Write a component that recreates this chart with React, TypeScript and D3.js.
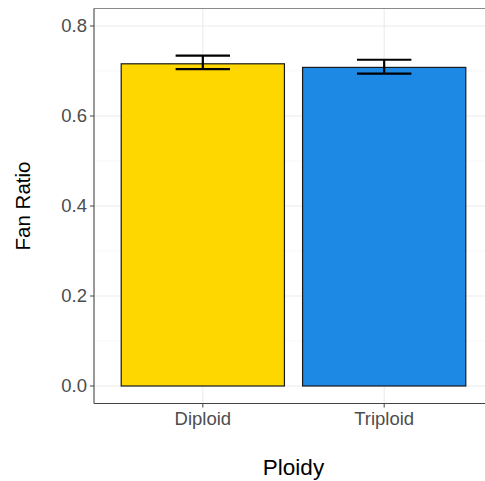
import React from 'react';
import { scaleLinear, scalePoint } from 'd3';

const categories = ['Diploid', 'Triploid'];
const means = [0.716, 0.708];
const lower = [0.704, 0.694];
const upper = [0.734, 0.725];
const fills = ['#FFD700', '#1E88E5'];
const yTicks = [0, 0.2, 0.4, 0.6, 0.8];
const yMinor = [0.1, 0.3, 0.5, 0.7];

const W = 485;
const H = 481;
const left = 94;
const right = 493;
const top = 8.5;
const bottom = 403.5;

const App: React.FC = () => {
  const y = scaleLinear().domain([0, 0.8]).range([386, 26]);
  const x = scalePoint<string>().domain(categories).range([left, right]).padding(0.6);
  const step = x.step();
  const barW = step * 0.9;
  const capW = step * 0.3;
  const font = '"Liberation Sans", Arial, sans-serif';

  return (
    <svg width={W} height={H} style={{ position: 'absolute', left: 0, top: 0, background: '#fff' }} fontFamily={font}>
      <rect x={left} y={top} width={right - left} height={bottom - top} fill="#fff" />
      {yMinor.map(t => (
        <line key={'mn' + t} x1={left} x2={right} y1={y(t)} y2={y(t)} stroke="#f4f4f4" strokeWidth={0.6} />
      ))}
      {yTicks.map(t => (
        <line key={'mj' + t} x1={left} x2={right} y1={y(t)} y2={y(t)} stroke="#ebebeb" strokeWidth={1.1} />
      ))}
      {categories.map(c => (
        <line key={'vg' + c} x1={x(c)} x2={x(c)} y1={top} y2={bottom} stroke="#ebebeb" strokeWidth={1.1} />
      ))}
      {categories.map((c, i) => (
        <rect key={'b' + c} x={x(c)! - barW / 2} y={y(means[i])} width={barW} height={y(0) - y(means[i])}
          fill={fills[i]} stroke="#1a1a1a" strokeWidth={1.2} />
      ))}
      {categories.map((c, i) => {
        const cx = x(c)!;
        return (
          <g key={'e' + c} stroke="#000" strokeWidth={2.2}>
            <line x1={cx} x2={cx} y1={y(upper[i])} y2={y(lower[i])} />
            <line x1={cx - capW / 2} x2={cx + capW / 2} y1={y(upper[i])} y2={y(upper[i])} />
            <line x1={cx - capW / 2} x2={cx + capW / 2} y1={y(lower[i])} y2={y(lower[i])} />
          </g>
        );
      })}
      {/* panel border */}
      <line x1={left} x2={right} y1={top} y2={top} stroke="#8a8a8a" strokeWidth={1} />
      <line x1={left} x2={left} y1={top} y2={bottom} stroke="#555" strokeWidth={1.2} />
      <line x1={left} x2={right} y1={bottom} y2={bottom} stroke="#444" strokeWidth={1.2} />
      {yTicks.map(t => (
        <g key={'yt' + t}>
          <line x1={left - 4} x2={left} y1={y(t)} y2={y(t)} stroke="#444" strokeWidth={1} />
          <text x={left - 7} y={y(t)} dy="0.35em" textAnchor="end" fontSize={18.5} fill="#4d4d4d">{t.toFixed(1)}</text>
        </g>
      ))}
      {categories.map(c => (
        <g key={'xt' + c}>
          <line x1={x(c)} x2={x(c)} y1={bottom} y2={bottom + 4} stroke="#444" strokeWidth={1} />
          <text x={x(c)} y={425} textAnchor="middle" fontSize={18.5} fill="#4d4d4d">{c}</text>
        </g>
      ))}
      <text x={(left + right) / 2} y={474.5} textAnchor="middle" fontSize={22.5} fill="#000">Ploidy</text>
      <text transform={`translate(29.5,${(top + bottom) / 2}) rotate(-90)`} textAnchor="middle" fontSize={20.5} fill="#000">Fan Ratio</text>
    </svg>
  );
};

export default App;
